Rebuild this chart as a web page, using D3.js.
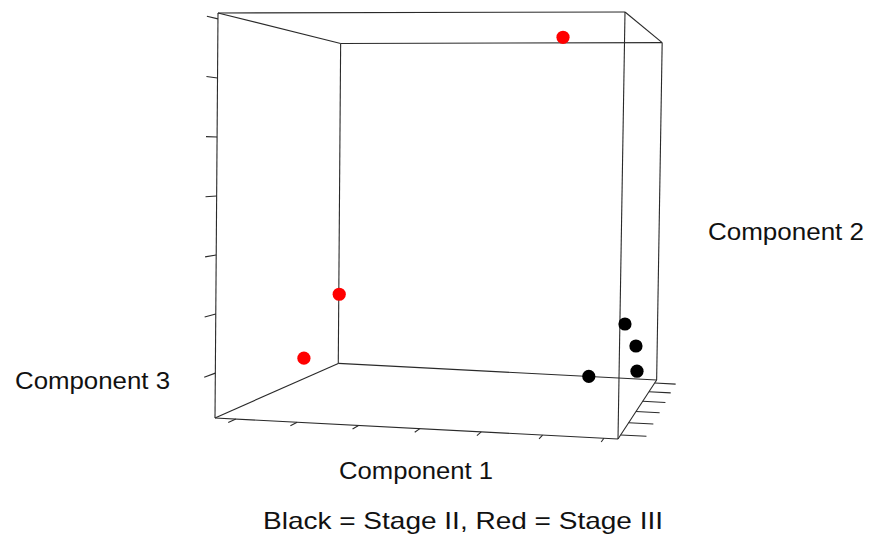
<!DOCTYPE html>
<html>
<head>
<meta charset="utf-8">
<script src="https://cdn.jsdelivr.net/npm/d3@7"></script>
<style>
  html, body { margin: 0; padding: 0; background: #fff; }
  svg text { font-family: 'Liberation Sans', Arial, sans-serif; fill: #111; }
</style>
</head>
<body>
<div id="vis"></div>
<script>
const FRAME_WIDTH = 869;
const FRAME_HEIGHT = 537;

// data
const stage = ['II', 'II', 'II', 'II', 'III', 'III', 'III'];
const comp1 = [1.83, 3.23, 3.23, 3.23, 1.43, -3.31, -3.34];
const comp2 = [3.36, -1.69, -0.16, 0.05, 2.11, 3.3, 1.49];
const comp3 = [-3.76, -1.99, -2.57, -3.05, 3.1, -2.27, -3.35];

// axis ranges of the bounding box
const comp1Range = [-3.34, 3.23];
const comp2Range = [-2.31, 3.36];
const comp3Range = [-3.76, 3.1];

const stageColors = { II: '#000000', III: '#ff0000' };

const data = stage.map((s, i) => ({ stage: s, c1: comp1[i], c2: comp2[i], c3: comp3[i] }));

// front face corners on screen + vanishing point (the view of the box)
const FRONT = {
  bl: [215, 418], br: [618, 439],
  tl: [218, 13], tr: [625, 12]
};
const VP = [802, 158];
const DEPTH = 1 / 0.79 - 1; // back face shrinks to 79%

const U = d3.scaleLinear().domain(comp1Range).range([0, 1]); // left -> right
const V = d3.scaleLinear().domain(comp3Range).range([0, 1]); // bottom -> top
const W = d3.scaleLinear().domain(comp2Range).range([0, 1]); // front -> back

function lerp(a, b, t) {
  return [a[0] + (b[0] - a[0]) * t, a[1] + (b[1] - a[1]) * t];
}

// perspective projection of unit-cube coordinates
function project(u, v, w) {
  const bottom = lerp(FRONT.bl, FRONT.br, u);
  const top = lerp(FRONT.tl, FRONT.tr, u);
  const f = lerp(bottom, top, v);
  const k = 1 / (1 + DEPTH * w);
  return [VP[0] + (f[0] - VP[0]) * k, VP[1] + (f[1] - VP[1]) * k];
}

const svg = d3.select('#vis')
  .append('svg')
  .attr('width', FRAME_WIDTH)
  .attr('height', FRAME_HEIGHT);

const lineColor = '#2a2a2a';

// box edges: pairs of cube corners that differ in one coordinate
const edges = [];
for (let a = 0; a < 8; a++) {
  for (let bit = 1; bit < 8; bit <<= 1) {
    if (!(a & bit)) edges.push([a, a | bit]);
  }
}
const corner = (n) => [n & 1, (n >> 1) & 1, (n >> 2) & 1];

svg.append('g')
  .selectAll('line')
  .data(edges)
  .enter()
  .append('line')
  .attr('x1', (d) => project(...corner(d[0]))[0])
  .attr('y1', (d) => project(...corner(d[0]))[1])
  .attr('x2', (d) => project(...corner(d[1]))[0])
  .attr('y2', (d) => project(...corner(d[1]))[1])
  .attr('stroke', lineColor)
  .attr('stroke-width', 1.1);

// tick marks
const ticks = [];
U.ticks(7).forEach((t) => ticks.push([[U(t), 0, 0], [U(t), 0, -0.05]]));
V.ticks(7).forEach((t) => ticks.push([[0, V(t), 0], [0, V(t), -0.07]]));
W.ticks(6).forEach((t) => ticks.push([[1, 0, W(t)], [1.065, 0, W(t)]]));

svg.append('g')
  .selectAll('line')
  .data(ticks)
  .enter()
  .append('line')
  .attr('x1', (d) => project(...d[0])[0])
  .attr('y1', (d) => project(...d[0])[1])
  .attr('x2', (d) => project(...d[1])[0])
  .attr('y2', (d) => project(...d[1])[1])
  .attr('stroke', lineColor)
  .attr('stroke-width', 1.1);

// points
svg.append('g')
  .selectAll('circle')
  .data(data)
  .enter()
  .append('circle')
  .attr('cx', (d) => project(U(d.c1), V(d.c3), W(d.c2))[0])
  .attr('cy', (d) => project(U(d.c1), V(d.c3), W(d.c2))[1])
  .attr('r', 6.6)
  .attr('fill', (d) => stageColors[d.stage]);

// labels
const labels = [
  { text: 'Component 2', x: 708, y: 240, len: 156 },
  { text: 'Component 3', x: 15, y: 389, len: 155 },
  { text: 'Component 1', x: 339, y: 479, len: 154 },
  { text: 'Black = Stage II, Red = Stage III', x: 263, y: 529, len: 400 }
];

svg.append('g')
  .selectAll('text')
  .data(labels)
  .enter()
  .append('text')
  .attr('x', (d) => d.x)
  .attr('y', (d) => d.y)
  .attr('font-size', '24px')
  .attr('textLength', (d) => d.len)
  .attr('lengthAdjust', 'spacingAndGlyphs')
  .text((d) => d.text);
</script>
</body>
</html>
